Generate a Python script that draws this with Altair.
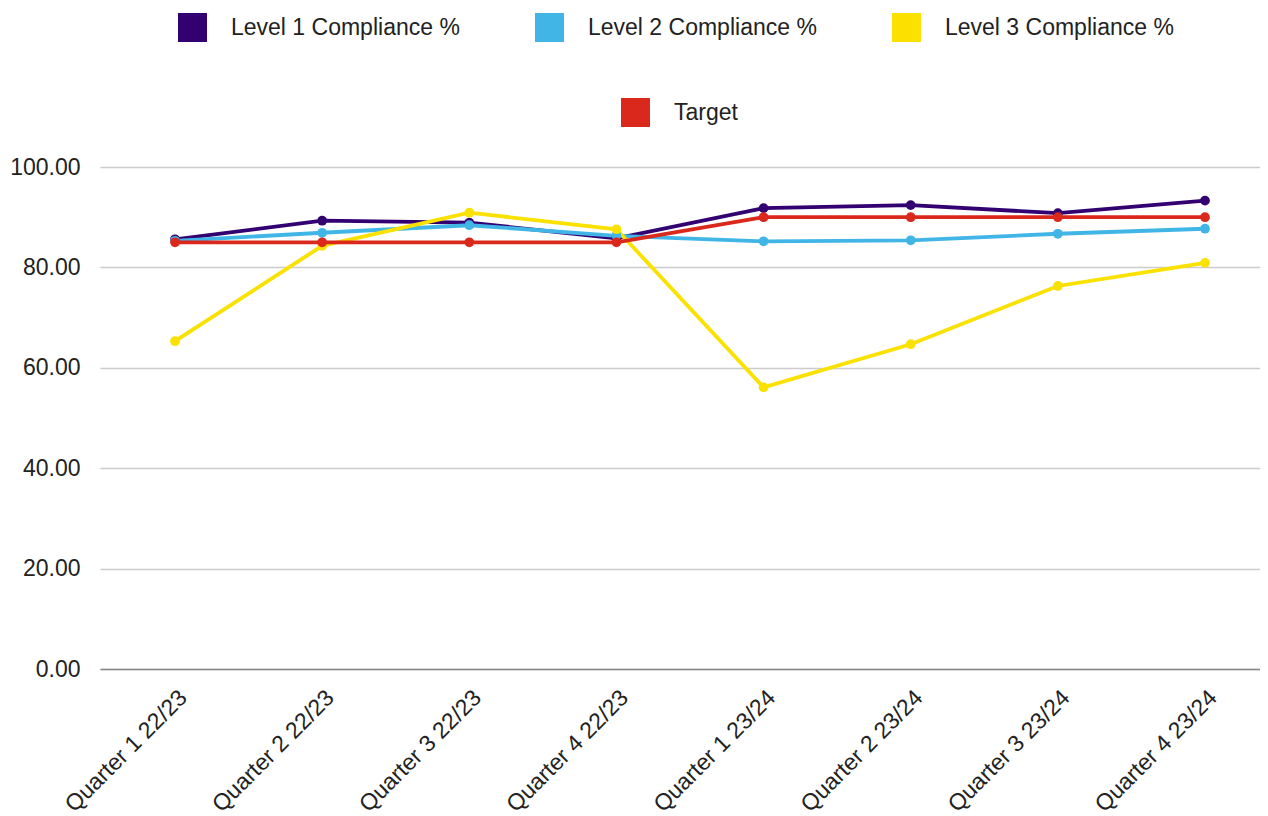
import altair as alt
import pandas as pd

quarters = ["Quarter 1 22/23", "Quarter 2 22/23", "Quarter 3 22/23", "Quarter 4 22/23",
            "Quarter 1 23/24", "Quarter 2 23/24", "Quarter 3 23/24", "Quarter 4 23/24"]
level1 = [85.6, 89.3, 88.9, 85.8, 91.8, 92.4, 90.8, 93.3]
level2 = [85.3, 86.9, 88.4, 86.3, 85.2, 85.4, 86.7, 87.7]
level3 = [65.3, 84.3, 90.9, 87.6, 56.1, 64.7, 76.3, 80.9]
target = [85, 85, 85, 85, 90, 90, 90, 90]

level_names = ["Level 1 Compliance %", "Level 2 Compliance %", "Level 3 Compliance %"]
level_colors = ["#330072", "#41B6E6", "#FAE100"]
target_name = ["Target"]
target_color = ["#DA291C"]

rows = []
for name, vals in zip(level_names, [level1, level2, level3]):
    for q, v in zip(quarters, vals):
        rows.append({"quarter": q, "value": v, "series": name})
levels_df = pd.DataFrame(rows)
target_df = pd.DataFrame({"quarter": quarters, "value": target, "series": target_name * len(quarters)})

FONT = "Liberation Sans"

x_enc = alt.X("quarter:N", sort=quarters,
              scale=alt.Scale(type="point", padding=0.4418, align=0.577),
              axis=alt.Axis(title=None, labelAngle=-45, labelFontSize=23, labelFont=FONT,
                            labelColor="#222", ticks=False, domainColor="#888",
                            domainWidth=1.5, grid=False, labelPadding=17))
y_enc = alt.Y("value:Q", scale=alt.Scale(domain=[0, 100], nice=False),
              axis=alt.Axis(title=None, values=[0, 20, 40, 60, 80, 100], format=".2f",
                            labelFontSize=23, labelFont=FONT, labelColor="#222",
                            domain=False, ticks=False, gridColor="#ccc", gridWidth=1.5,
                            labelPadding=20))

def legend(x, y):
    return alt.Legend(title=None, orient="none", legendX=x, legendY=y, direction="horizontal",
                      symbolType="square", symbolSize=841, symbolStrokeWidth=0,
                      labelFontSize=23, labelFont=FONT, labelColor="#222",
                      labelOffset=24, columnPadding=75, labelLimit=400)

lvl_line = alt.Chart(levels_df).mark_line(strokeWidth=3.8).encode(
    x=x_enc, y=y_enc,
    stroke=alt.Stroke("series:N", scale=alt.Scale(domain=level_names, range=level_colors), legend=None))
lvl_pts = alt.Chart(levels_df).mark_circle(size=95, opacity=1).encode(
    x=x_enc, y=y_enc,
    color=alt.Color("series:N", scale=alt.Scale(domain=level_names, range=level_colors),
                    legend=legend(78, -154)))
tgt_line = alt.Chart(target_df).mark_line(strokeWidth=3.8).encode(
    x=x_enc, y=y_enc,
    stroke=alt.Stroke("series:N", scale=alt.Scale(domain=target_name, range=target_color), legend=None))
tgt_pts = alt.Chart(target_df).mark_circle(size=95, opacity=1).encode(
    x=x_enc, y=y_enc,
    color=alt.Color("series:N", scale=alt.Scale(domain=target_name, range=target_color),
                    legend=legend(521, -69)))

chart = alt.layer(lvl_line, lvl_pts, tgt_line, tgt_pts).resolve_scale(
    color="independent", stroke="independent"
).resolve_legend(
    color="independent", stroke="independent"
).properties(
    width=1160, height=502, padding={"left": 1, "top": 5, "right": 0, "bottom": 0}
).configure_view(stroke=None)

chart.save("out.html", embed_options={"renderer": "svg", "actions": False})
